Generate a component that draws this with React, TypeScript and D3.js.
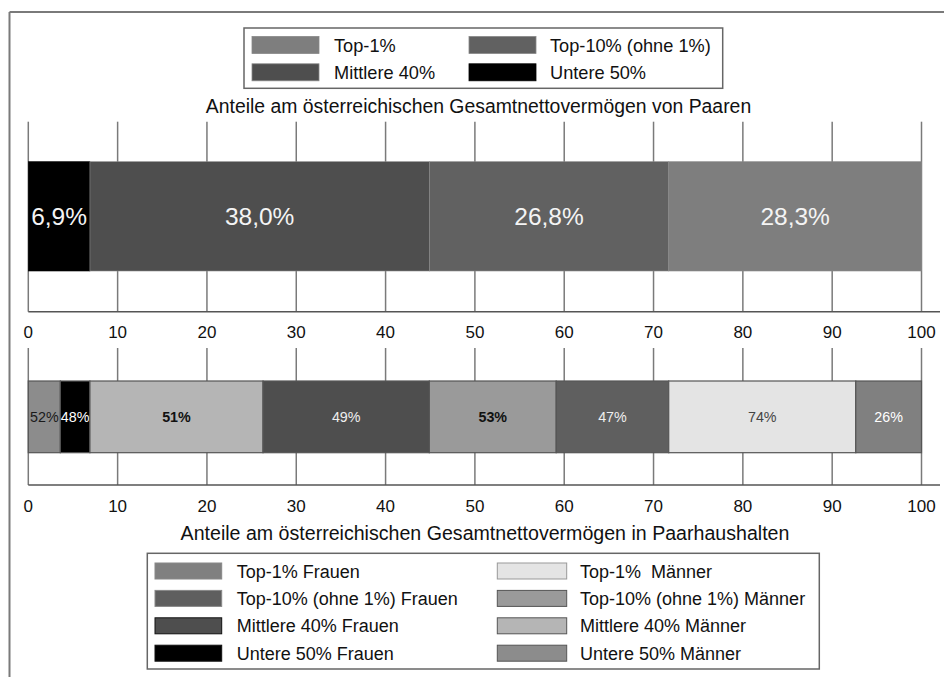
import React from "react";
import * as d3 from "d3";

const groups = ["Untere 50%", "Mittlere 40%", "Top-10% (ohne 1%)", "Top-1%"];
const groupValues = [6.9, 38.0, 26.8, 28.3];
const menShares = [52, 51, 53, 74];
const womenShares = [48, 49, 47, 26];
const xTicks = [0, 10, 20, 30, 40, 50, 60, 70, 80, 90, 100];

const topColors = ["#000000", "#4e4e4e", "#616161", "#7e7e7e"];
const menColors = ["#8c8c8c", "#b5b5b5", "#9a9a9a", "#e4e4e4"];
const womenColors = ["#000000", "#4e4e4e", "#5f5f5f", "#808080"];
const menLabelColors = ["#1a1a1a", "#111111", "#111111", "#444444"];
const womenLabelColors = ["#ffffff", "#eeeeee", "#eeeeee", "#ffffff"];
const menLabelWeights = ["normal", "bold", "bold", "normal"];

const topLegend = [
  { label: "Top-1%", color: "#7e7e7e" },
  { label: "Top-10% (ohne 1%)", color: "#616161" },
  { label: "Mittlere 40%", color: "#4e4e4e" },
  { label: "Untere 50%", color: "#000000" },
];
const bottomLegendWomen = ["Top-1% Frauen", "Top-10% (ohne 1%) Frauen", "Mittlere 40% Frauen", "Untere 50% Frauen"];
const bottomLegendMen = ["Top-1%  Männer", "Top-10% (ohne 1%) Männer", "Mittlere 40% Männer", "Untere 50% Männer"];
const legendWomenColors = ["#808080", "#5f5f5f", "#4e4e4e", "#000000"];
const legendMenColors = ["#e4e4e4", "#9a9a9a", "#b5b5b5", "#8c8c8c"];

const titleTop = "Anteile am österreichischen Gesamtnettovermögen von Paaren";
const titleBottom = "Anteile am österreichischen Gesamtnettovermögen in Paarhaushalten";

const FONT = "'Liberation Sans', Arial, sans-serif";

export default function App() {
  const W = 944, H = 677;
  const x = d3.scaleLinear().domain([0, 100]).range([28.3, 921.5]);

  const cum = d3.cumsum(groupValues);
  const starts = groupValues.map((v, i) => cum[i] - v);

  const topSegs = groupValues.map((v, i) => ({
    x0: starts[i], x1: starts[i] + v, color: topColors[i],
    label: v.toFixed(1).replace(".", ",") + "%",
  }));

  const bottomSegs: any[] = [];
  groupValues.forEach((v, i) => {
    const m = (v * menShares[i]) / 100;
    bottomSegs.push({ x0: starts[i], x1: starts[i] + m, color: menColors[i], label: menShares[i] + "%", tc: menLabelColors[i], fw: menLabelWeights[i] });
    bottomSegs.push({ x0: starts[i] + m, x1: starts[i] + v, color: womenColors[i], label: womenShares[i] + "%", tc: womenLabelColors[i], fw: "normal" });
  });

  const p1 = { gTop: 121.7, barTop: 161.7, barBot: 271, axis: 311.7, tickY: 337.5 };
  const p2 = { gTop: 348, barTop: 381, barBot: 452.7, axis: 485, tickY: 511.5 };

  const panelGrid = (p: any, key: string) => (
    <g key={key}>
      {xTicks.map((t) => (
        <line key={t} x1={x(t)} x2={x(t)} y1={p.gTop} y2={p.axis} stroke="#7a7a7a" strokeWidth={1.5} />
      ))}
    </g>
  );
  const panelAxis = (p: any, key: string) => (
    <g key={key}>
      <line x1={x(0)} x2={940} y1={p.axis} y2={p.axis} stroke="#555" strokeWidth={1.6} />
      {xTicks.map((t) => (
        <text key={t} x={x(t)} y={p.tickY} textAnchor="middle" fontSize={17} fill="#111" fontFamily={FONT}>
          {t}
        </text>
      ))}
    </g>
  );

  return (
    <svg width={W} height={H} style={{ position: "absolute", left: 0, top: 0, background: "#fff" }} fontFamily={FONT}>
      <rect x={0} y={0} width={W} height={H} fill="#fff" />
      {/* outer frame */}
      <line x1={9.5} x2={W} y1={12} y2={12} stroke="#7a7a7a" strokeWidth={2} />
      <line x1={9.5} x2={9.5} y1={12} y2={H} stroke="#7a7a7a" strokeWidth={2} />

      {/* top legend */}
      <rect x={244} y={28} width={478.7} height={60.3} fill="#fff" stroke="#666" strokeWidth={1.5} />
      {topLegend.map((d, i) => {
        const col = i % 2, row = Math.floor(i / 2);
        const sx = col === 0 ? 252 : 469;
        const tx = col === 0 ? 334 : 550;
        const cy = 45 + row * 27.3;
        return (
          <g key={d.label}>
            <rect x={sx} y={cy - 8.5} width={67} height={17} fill={d.color} stroke={d.color === "#000000" ? "#000" : "#888"} strokeWidth={0.8} />
            <text x={tx} y={cy + 6.5} fontSize={18.2} fill="#111">{d.label}</text>
          </g>
        );
      })}
      <text x={478.5} y={113} textAnchor="middle" fontSize={19.4} fill="#111">{titleTop}</text>

      {/* panel 1 */}
      {panelGrid(p1, "g1")}
      {topSegs.map((s, i) => (
        <g key={i}>
          <rect x={x(s.x0)} y={p1.barTop} width={x(s.x1) - x(s.x0)} height={p1.barBot - p1.barTop} fill={s.color} stroke={i === 0 ? "#000" : "#8a8a8a"} strokeWidth={0.6} />
          <text x={(x(s.x0) + x(s.x1)) / 2} y={(p1.barTop + p1.barBot) / 2 + 9} textAnchor="middle" fontSize={24.5} fill="#f4f4f4">
            {s.label}
          </text>
        </g>
      ))}
      {panelAxis(p1, "a1")}

      {/* panel 2 */}
      {panelGrid(p2, "g2")}
      {bottomSegs.map((s, i) => (
        <g key={i}>
          <rect x={x(s.x0)} y={p2.barTop} width={x(s.x1) - x(s.x0)} height={p2.barBot - p2.barTop} fill={s.color} stroke="#555" strokeWidth={1.2} />
          <text x={(x(s.x0) + x(s.x1)) / 2} y={(p2.barTop + p2.barBot) / 2 + 5} textAnchor="middle" fontSize={14.3} fill={s.tc} fontWeight={s.fw}>
            {s.label}
          </text>
        </g>
      ))}
      {panelAxis(p2, "a2")}
      <text x={485} y={540} textAnchor="middle" fontSize={19.6} fill="#111">{titleBottom}</text>

      {/* bottom legend */}
      <rect x={147.3} y={553.3} width={672} height={115.7} fill="#fff" stroke="#666" strokeWidth={1.5} />
      {bottomLegendWomen.map((lab, i) => {
        const cy = 571 + i * 27.4;
        return (
          <g key={lab}>
            <rect x={155} y={cy - 8} width={66.7} height={16} fill={legendWomenColors[i]} stroke={i >= 2 ? "#111" : "#888"} strokeWidth={1} />
            <text x={236.7} y={cy + 6.5} fontSize={18} fill="#111">{lab}</text>
          </g>
        );
      })}
      {bottomLegendMen.map((lab, i) => {
        const cy = 571 + i * 27.4;
        return (
          <g key={lab}>
            <rect x={497.3} y={cy - 8} width={69.4} height={16} fill={legendMenColors[i]} stroke={i === 0 ? "#999" : "#555"} strokeWidth={1} />
            <text x={580} y={cy + 6.5} fontSize={18} fill="#111" style={{ whiteSpace: "pre" }}>{lab}</text>
          </g>
        );
      })}
    </svg>
  );
}
